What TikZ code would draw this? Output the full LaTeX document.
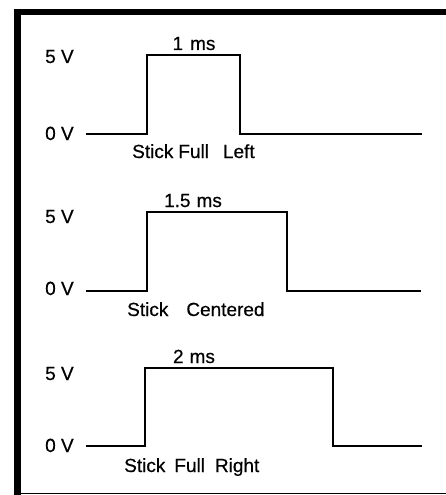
\documentclass[tikz,border=0pt]{standalone}
\usepackage{fontspec}
\setmainfont{Liberation Sans}[FakeBold=0.5]
\begin{document}
\begin{tikzpicture}[x=1pt,y=-1pt,
  frame/.style={line cap=butt},
  wave/.style={line width=1.3pt, line join=miter},
  lbl/.style={inner sep=0pt, anchor=base west, font=\fontsize{19}{22}\selectfont},
  mslbl/.style={inner sep=0pt, anchor=base, font=\fontsize{19}{22}\selectfont},
  stick/.style={inner sep=0pt, anchor=base west, font=\fontsize{19}{22}\selectfont}]
\useasboundingbox (0,0) rectangle (446,495);
\fill[white] (0,0) rectangle (446,495);

% border: heavy left and top rules, hairline at the bottom
\draw[frame, line width=7pt] (17.5,9) -- (17.5,495);
\draw[frame, line width=6pt] (14,12) -- (446,12);
\draw[frame, line width=1.2pt] (14,493.8) -- (446,493.8);

% level labels
\foreach \hi/\lo [count=\i] in {63/140, 223/295, 380/452} {
  \node[lbl] (hi\i) at (45,\hi) {5 V};
  \node[lbl] (lo\i) at (45,\lo) {0 V};
}

% pulse trains
\draw[wave] (86,134) -- (147,134) -- (147,55) -- (240,55) -- (240,134) -- (422,134);
\draw[wave] (86,291) -- (147,291) -- (147,212) -- (287,212) -- (287,291) -- (421,291);
\draw[wave] (86,446) -- (145,446) -- (145,368) -- (333,368) -- (333,446) -- (422,446);

% pulse widths
\node[mslbl] (w1) at (194,50) {1\hspace{7pt}ms};
\node[mslbl] (w2) at (193,207) {1.5\hspace{6pt}ms};
\node[mslbl] (w3) at (194,363) {2\hspace{6pt}ms};

% stick positions
\node[stick] (s1) at (132,158) {Stick\hspace{5pt}Full\hspace{14pt}Left};
\node[stick] (s2) at (127,316) {Stick\hspace{18pt}Centered};
\node[stick] (s3) at (124,472) {Stick\hspace{9pt}Full\hspace{10pt}Right};
\end{tikzpicture}
\end{document}
